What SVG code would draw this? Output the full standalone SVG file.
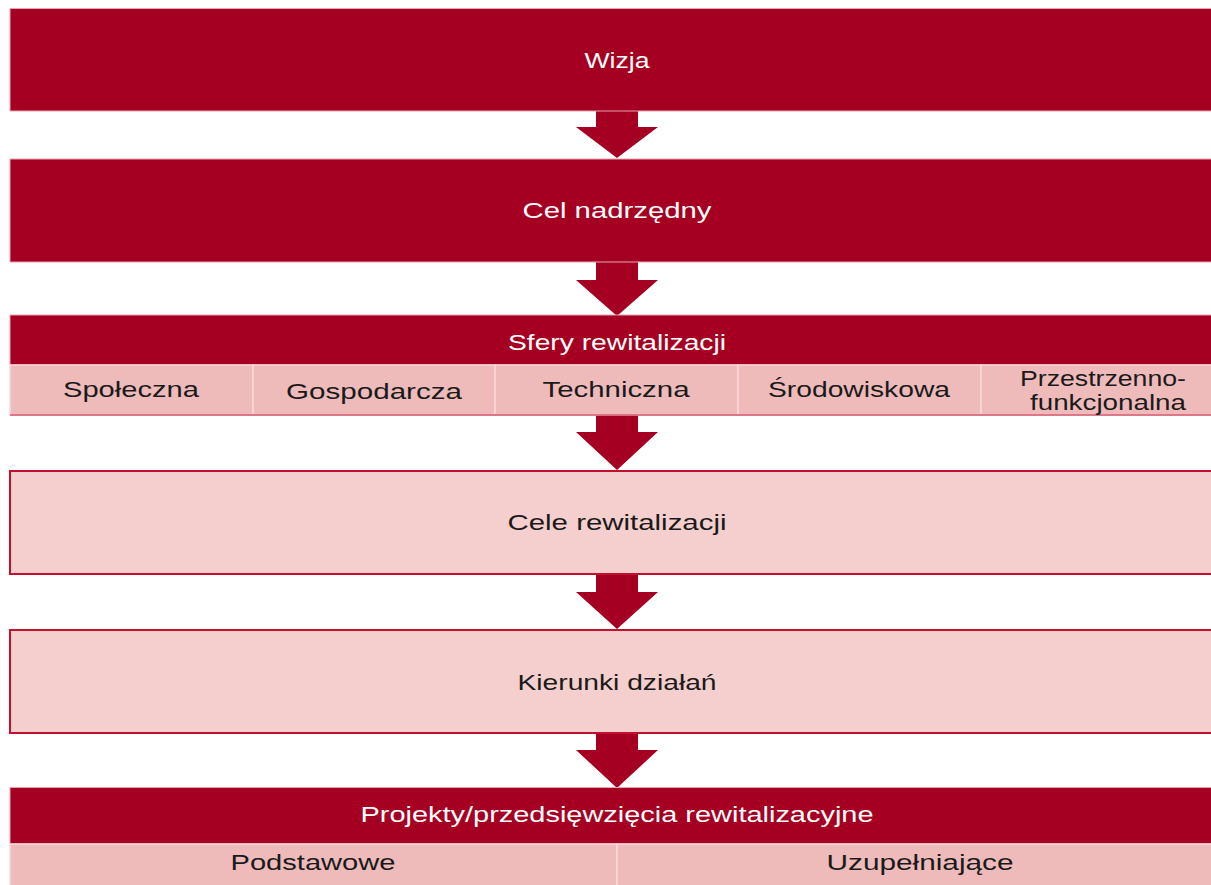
<svg xmlns="http://www.w3.org/2000/svg" width="1211" height="885" viewBox="0 0 1211 885">
<style>
.dark{fill:#A50021;stroke:#E8A3AE;stroke-width:1}
.light{fill:#F5CFCD;stroke:#C4102F;stroke-width:2}
.cell{fill:#EEBBBA;stroke:#F7D9D9;stroke-width:1.5}
.arrow{fill:#A50021}
text{font-family:"Liberation Sans",Arial,sans-serif;font-size:22px;text-anchor:middle}
.w{fill:#FFFFFF}
.k{fill:#1A1A1A}
</style>
<rect width="1211" height="885" fill="#FFFFFF"/>
<g id="connectors">
<polygon class="arrow" points="596,110 638,110 638,127 658,127 617,158 576,127 596,127"/>
<polygon class="arrow" points="596,261 638,261 638,280 658,280 617,316 576,280 596,280"/>
<polygon class="arrow" points="596,414 638,414 638,432 658,432 617,470 576,432 596,432"/>
<polygon class="arrow" points="596,573 638,573 638,592 658,592 617,629 576,592 596,592"/>
<polygon class="arrow" points="596,732 638,732 638,750 658,750 617,788 576,750 596,750"/>
</g>
<g id="wizja">
<rect class="dark" x="10" y="8.5" width="1214" height="102.5"/>
<text class="w" x="617" y="68" textLength="65" lengthAdjust="spacingAndGlyphs">Wizja</text>
</g>
<g id="cel-nadrzedny">
<rect class="dark" x="10" y="159" width="1214" height="103"/>
<text class="w" x="617" y="218" textLength="189" lengthAdjust="spacingAndGlyphs">Cel nadrzędny</text>
</g>
<g id="sfery">
<rect class="dark" x="10" y="315" width="1214" height="50"/>
<text class="w" x="617" y="350" textLength="218" lengthAdjust="spacingAndGlyphs">Sfery rewitalizacji</text>
<rect class="cell" x="10" y="365" width="243" height="50"/>
<rect class="cell" x="253" y="365" width="242" height="50"/>
<rect class="cell" x="495" y="365" width="243" height="50"/>
<rect class="cell" x="738" y="365" width="243" height="50"/>
<rect class="cell" x="981" y="365" width="243" height="50"/>
<line x1="10" y1="415" x2="1224" y2="415" stroke="#D2566E" stroke-width="1.5"/>
<text class="k" x="131" y="397" textLength="136" lengthAdjust="spacingAndGlyphs">Społeczna</text>
<text class="k" x="374" y="399" textLength="176" lengthAdjust="spacingAndGlyphs">Gospodarcza</text>
<text class="k" x="616" y="397" textLength="147" lengthAdjust="spacingAndGlyphs">Techniczna</text>
<text class="k" x="859" y="397" textLength="182" lengthAdjust="spacingAndGlyphs">Środowiskowa</text>
<text class="k" x="1103" y="386" textLength="166" lengthAdjust="spacingAndGlyphs">Przestrzenno-</text>
<text class="k" x="1108" y="410" textLength="156" lengthAdjust="spacingAndGlyphs">funkcjonalna</text>
</g>
<g id="cele">
<rect class="light" x="10" y="471" width="1214" height="103"/>
<text class="k" x="617" y="530" textLength="219" lengthAdjust="spacingAndGlyphs">Cele rewitalizacji</text>
</g>
<g id="kierunki">
<rect class="light" x="10" y="630" width="1214" height="103"/>
<text class="k" x="617" y="690" textLength="199" lengthAdjust="spacingAndGlyphs">Kierunki działań</text>
</g>
<g id="projekty">
<rect class="dark" x="10" y="787.5" width="1214" height="56.5"/>
<text class="w" x="617" y="822" textLength="513" lengthAdjust="spacingAndGlyphs">Projekty/przedsięwzięcia rewitalizacyjne</text>
<rect class="cell" x="10" y="844" width="607" height="50"/>
<rect class="cell" x="617" y="844" width="607" height="50"/>
<text class="k" x="313" y="870" textLength="165" lengthAdjust="spacingAndGlyphs">Podstawowe</text>
<text class="k" x="920" y="870" textLength="187" lengthAdjust="spacingAndGlyphs">Uzupełniające</text>
</g>
</svg>
